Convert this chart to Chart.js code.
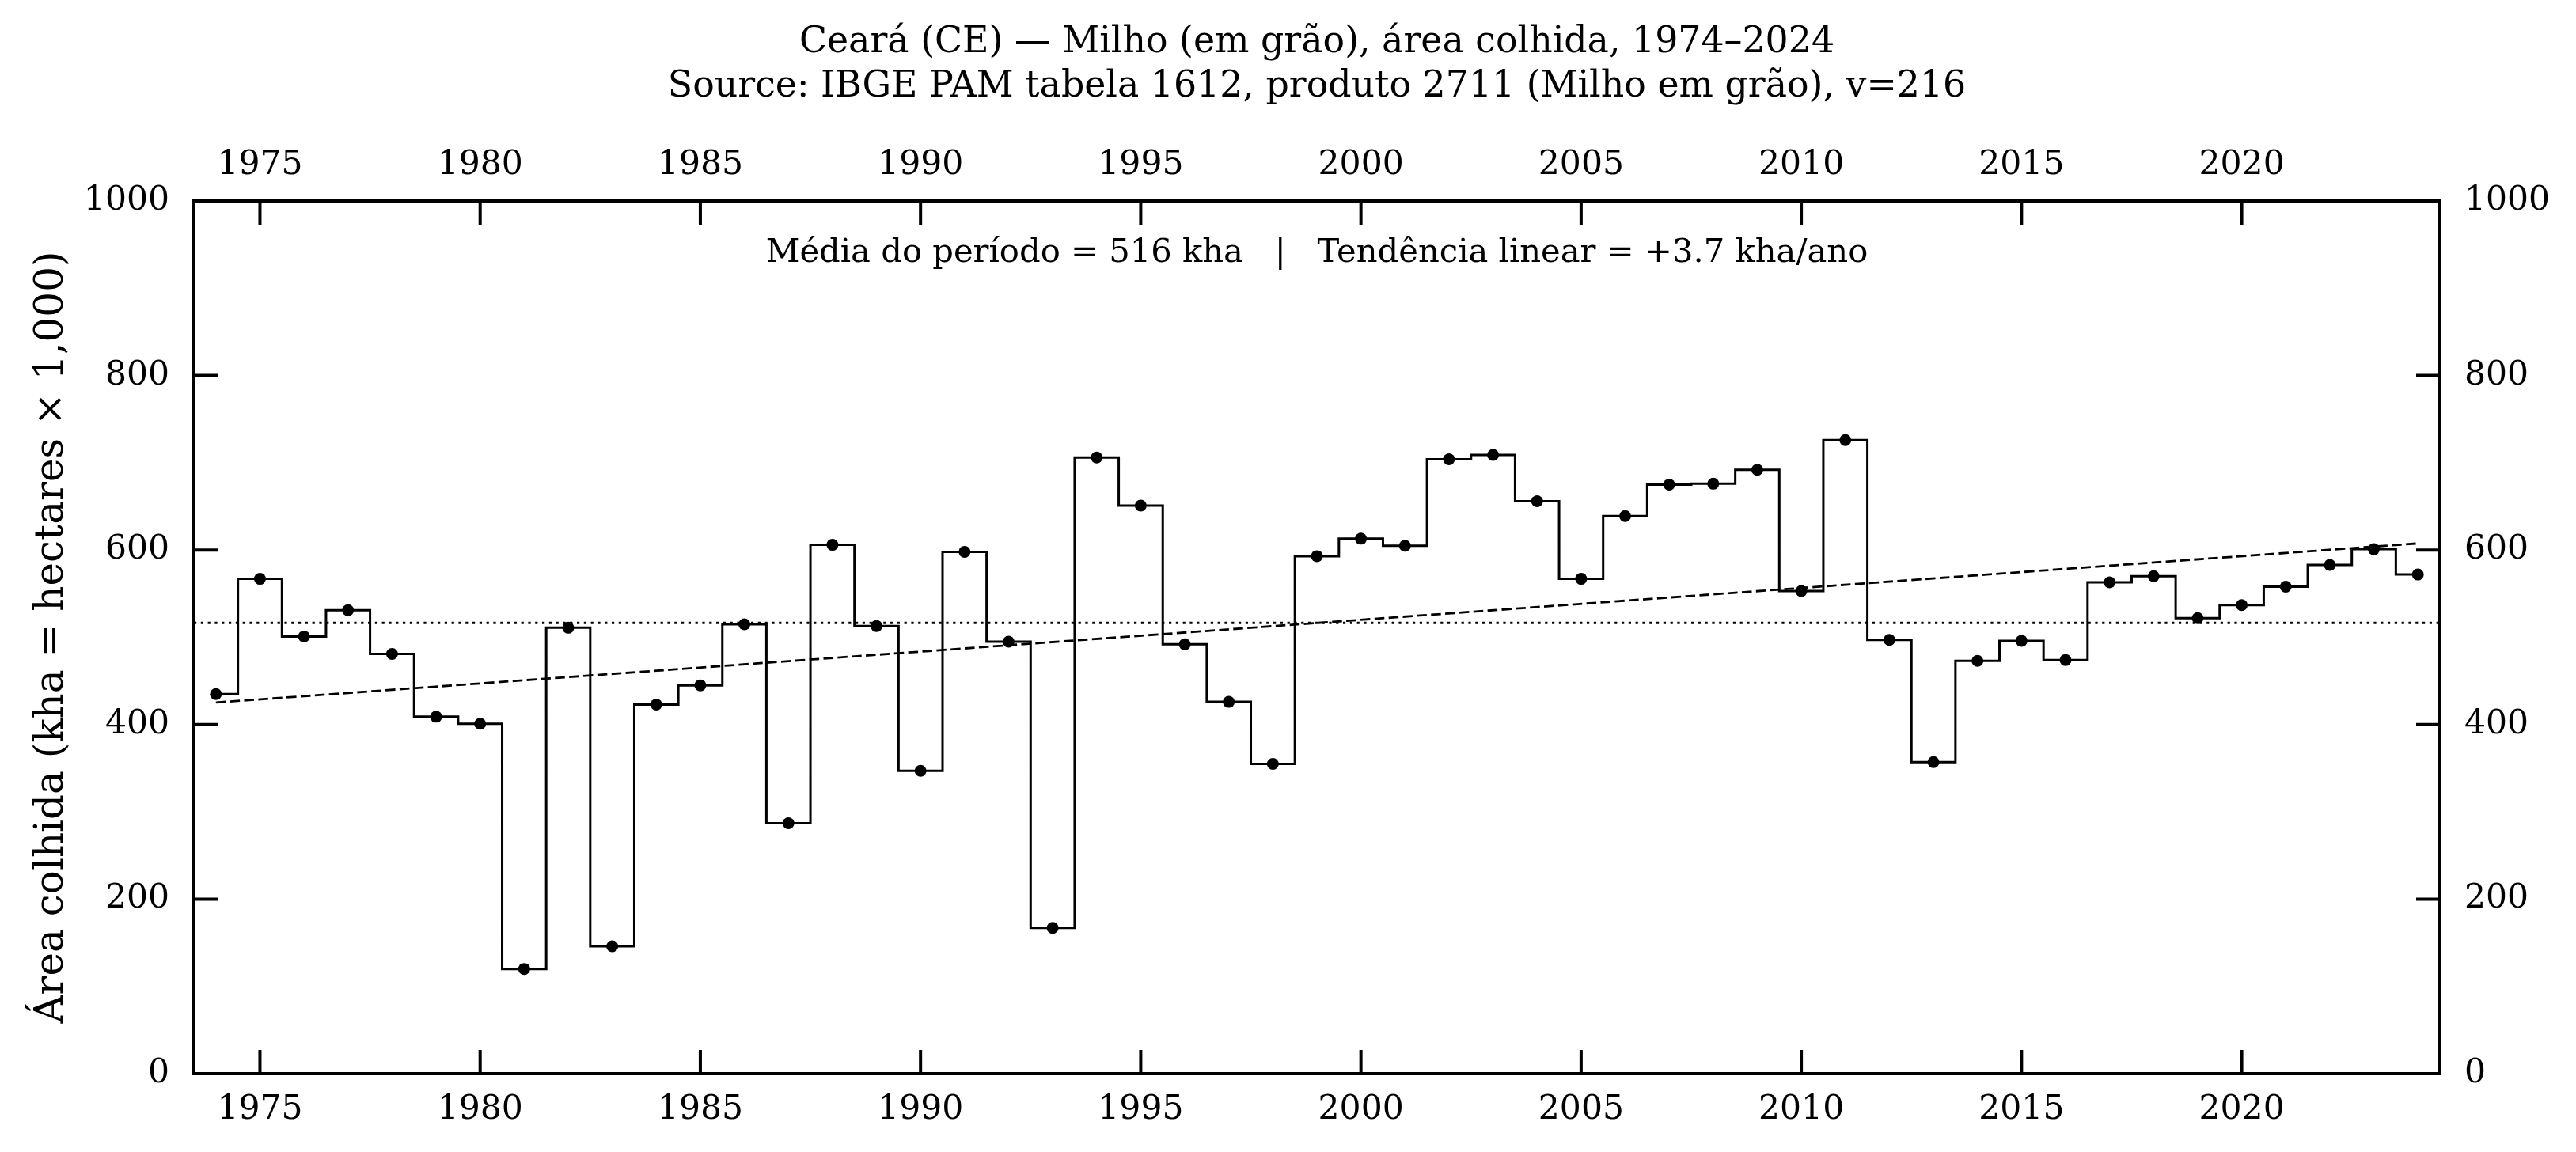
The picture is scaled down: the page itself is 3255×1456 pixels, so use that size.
<!DOCTYPE html>
<html>
<head>
<meta charset="utf-8">
<script src="https://cdn.jsdelivr.net/npm/chart.js@4.4.1/dist/chart.umd.min.js"></script>
<style>
  html, body { margin: 0; padding: 0; background: #fff; }
  #wrap { width: 3255px; height: 1456px; }
</style>
</head>
<body>
<div id="wrap"><canvas id="areaChart"></canvas></div>
<script>
// Ceará - milho em grão, área colhida (kha).
var years = [1974, 1975, 1976, 1977, 1978, 1979, 1980, 1981, 1982, 1983,
             1984, 1985, 1986, 1987, 1988, 1989, 1990, 1991, 1992, 1993,
             1994, 1995, 1996, 1997, 1998, 1999, 2000, 2001, 2002, 2003,
             2004, 2005, 2006, 2007, 2008, 2009, 2010, 2011, 2012, 2013,
             2014, 2015, 2016, 2017, 2018, 2019, 2020, 2021, 2022, 2023, 2024];
var area = [435, 567, 501, 531, 481, 409, 401, 120, 511, 146,
            423, 445, 515, 287, 606, 513, 347, 598, 495, 167,
            706, 651, 492, 426, 355, 593, 613, 605, 704, 709,
            656, 567, 639, 675, 676, 692, 553, 726, 497, 357,
            473, 496, 474, 563, 570, 522, 537, 558, 583, 601, 572];
var xTicks = [1975, 1980, 1985, 1990, 1995, 2000, 2005, 2010, 2015, 2020];
var yTicks = [0, 200, 400, 600, 800, 1000];
var titleLines = ['Ceará (CE) — Milho (em grão), área colhida, 1974–2024',
                  'Source: IBGE PAM tabela 1612, produto 2711 (Milho em grão), v=216'];
var yLabel = 'Área colhida (kha = hectares × 1,000)';
var note = 'Média do período = 516 kha   |   Tendência linear = +3.7 kha/ano';

(function() {
    var serif = 'DejaVu Serif';
    var tickFont = { family: serif, size: 42.5 };

    // Mean and least-squares trend of the series.
    var n = years.length, mx = 0, my = 0;
    years.forEach(function(x, i) { mx += x; my += area[i]; });
    mx /= n; my /= n;
    var sxy = 0, sxx = 0;
    years.forEach(function(x, i) { sxy += (x - mx) * (area[i] - my); sxx += (x - mx) * (x - mx); });
    var slope = sxy / sxx;
    var trendAt = function(x) { return my + slope * (x - mx); };

    var first = years[0], last = years[years.length - 1];
    var xMin = first - 0.5, xMax = last + 0.5;

    var points = years.map(function(x, i) { return { x: x, y: area[i] }; });

    function setTicks(list) {
        return function(s) { s.ticks = list.map(function(v) { return { value: v }; }); };
    }
    function plainLabel(v) { return String(v); }

    // Inward tick marks and the in-plot note.
    var decor = {
        id: 'decor',
        afterDraw: function(chart) {
            var ctx = chart.ctx, a = chart.chartArea, L = 30;
            var sx = chart.scales.x, sy = chart.scales.y;
            ctx.save();
            ctx.strokeStyle = '#000';
            ctx.lineWidth = 4;
            ctx.beginPath();
            xTicks.forEach(function(v) {
                var px = sx.getPixelForValue(v);
                ctx.moveTo(px, a.bottom); ctx.lineTo(px, a.bottom - L);
                ctx.moveTo(px, a.top); ctx.lineTo(px, a.top + L);
            });
            yTicks.forEach(function(v) {
                var py = sy.getPixelForValue(v);
                ctx.moveTo(a.left, py); ctx.lineTo(a.left + L, py);
                ctx.moveTo(a.right, py); ctx.lineTo(a.right - L, py);
            });
            ctx.stroke();

            ctx.fillStyle = '#000';
            ctx.font = '41.7px "' + serif + '"';
            ctx.textAlign = 'center';
            ctx.textBaseline = 'middle';
            ctx.fillText(note, (a.left + a.right) / 2, a.top + 66);
            ctx.restore();
        }
    };

    var axisBase = function(extra) {
        var o = {
            type: 'linear',
            grid: { display: false, drawTicks: false },
            border: { display: true, width: 4, color: '#000' },
            ticks: { font: tickFont, color: '#000', autoSkip: false, maxRotation: 0, callback: plainLabel }
        };
        for (var k in extra) o[k] = extra[k];
        return o;
    };

    var chart = new Chart(document.getElementById('areaChart'), {
        type: 'line',
        data: {
            datasets: [{
                label: 'Área colhida',
                data: points,
                stepped: 'middle',
                borderColor: '#000',
                borderWidth: 3,
                pointRadius: 7.5,
                pointBorderWidth: 0,
                pointBackgroundColor: '#000',
                order: 0
            }, {
                label: 'Média',
                data: [{ x: xMin, y: my }, { x: xMax, y: my }],
                borderColor: '#000',
                borderWidth: 3,
                borderDash: [3.2, 5.6],
                pointRadius: 0,
                order: 2
            }, {
                label: 'Tendência',
                data: [{ x: first, y: trendAt(first) }, { x: last, y: trendAt(last) }],
                borderColor: '#000',
                borderWidth: 2.8,
                borderDash: [12.5, 5.4],
                pointRadius: 0,
                order: 1
            }]
        },
        options: {
            responsive: true,
            maintainAspectRatio: false,
            devicePixelRatio: 1,
            animation: false,
            layout: { padding: 0 },
            plugins: {
                legend: { display: false },
                tooltip: { enabled: false },
                title: {
                    display: true,
                    fullSize: false,
                    text: titleLines,
                    color: '#000',
                    font: { family: serif, size: 45.8, weight: 'normal', lineHeight: 56 / 45.8 },
                    padding: { top: 26, bottom: 0 }
                }
            },
            scales: {
                x: axisBase({
                    position: 'bottom', min: xMin, max: xMax,
                    afterBuildTicks: setTicks(xTicks),
                    afterFit: function(s) { s.height = 99; },
                    ticks: { font: tickFont, color: '#000', autoSkip: false, maxRotation: 0, padding: 20, callback: plainLabel }
                }),
                x2: axisBase({
                    position: 'top', min: xMin, max: xMax,
                    afterBuildTicks: setTicks(xTicks),
                    afterFit: function(s) { s.height = 116; },
                    ticks: { font: tickFont, color: '#000', autoSkip: false, maxRotation: 0, padding: 20, callback: plainLabel }
                }),
                y: axisBase({
                    position: 'left', min: 0, max: 1000,
                    afterBuildTicks: setTicks(yTicks),
                    afterFit: function(s) { s.width = 245; },
                    title: { display: true, text: yLabel, color: '#000', font: { family: serif, size: 50 }, padding: { top: 36, bottom: 0 } },
                    ticks: { font: tickFont, color: '#000', autoSkip: false, padding: 31, callback: plainLabel }
                }),
                y2: axisBase({
                    position: 'right', min: 0, max: 1000,
                    afterBuildTicks: setTicks(yTicks),
                    afterFit: function(s) { s.width = 172; },
                    ticks: { font: tickFont, color: '#000', autoSkip: false, padding: 31, callback: plainLabel }
                })
            }
        },
        plugins: [decor]
    });
})();
</script>
</body>
</html>
